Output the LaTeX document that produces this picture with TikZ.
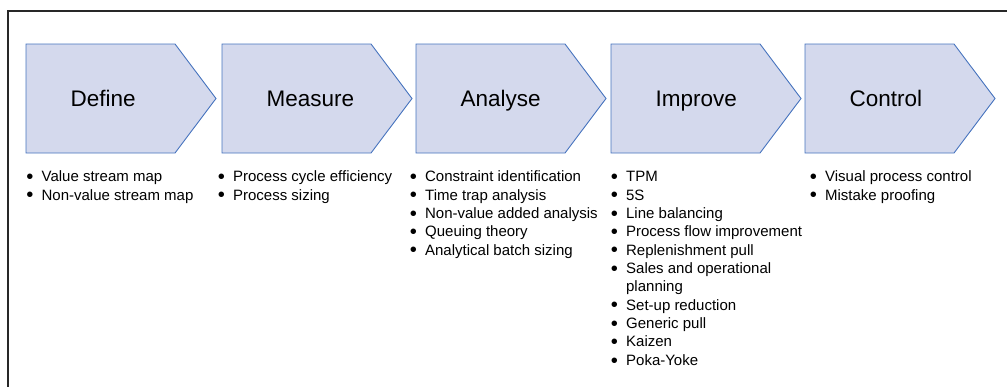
\documentclass[tikz,border=0pt]{standalone}
\usepackage{fontspec}
\setmainfont{Liberation Sans}
\definecolor{chfill}{RGB}{212,217,237}
\definecolor{chdraw}{RGB}{70,115,190}
\definecolor{framecol}{RGB}{40,40,40}
\newcommand{\blist}[1]{{\fontsize{15}{18.35}\selectfont\begin{tabular}[t]{@{}l@{\hspace{9.2pt}}l@{}}#1\end{tabular}}}
\newcommand{\bi}{\makebox[5.25pt][c]{\raisebox{-1.8pt}{\scalebox{1.35}{\textbullet}}} &}
\begin{document}
\begin{tikzpicture}[x=1pt,y=-1pt,
  chevron/.style={fill=chfill,draw=chdraw,line width=0.9pt,line join=miter},
  phase/.style={anchor=base west,inner sep=0pt,font=\fontsize{22.5}{26}\selectfont},
  items/.style={anchor=north west,inner sep=0pt}]
\useasboundingbox (0,0) rectangle (1007,386);
\draw[framecol,line width=2.6pt] (8,390) -- (8,11) -- (1010,11);
\foreach \L/\name/\txt in {26/D/Define,222/M/Measure,416/A/Analyse,611/I/Improve,805/C/Control}{
  \draw[chevron] (\L,44) -- ({\L+149},44) -- ({\L+190},98.5) -- ({\L+149},153) -- (\L,153) -- cycle;
  \node[phase] (t\name) at ({\L+44.5},106) {\txt};
}
\node[items] (lD) at (27,168.7) {\blist{\bi Value stream map\\ \bi Non-value stream map}};
\node[items] (lM) at (218.5,168.7) {\blist{\bi Process cycle efficiency\\ \bi Process sizing}};
\node[items] (lA) at (410.5,168.7) {\blist{\bi Constraint identification\\ \bi Time trap analysis\\ \bi Non-value added analysis\\ \bi Queuing theory\\ \bi Analytical batch sizing}};
\node[items] (lI) at (611.5,168.7) {\blist{\bi TPM\\ \bi 5S\\ \bi Line balancing\\ \bi Process flow improvement\\ \bi Replenishment pull\\ \bi Sales and operational\\ & planning\\ \bi Set-up reduction\\ \bi Generic pull\\ \bi Kaizen\\ \bi Poka-Yoke}};
\node[items] (lC) at (810.5,168.7) {\blist{\bi Visual process control\\ \bi Mistake proofing}};
\end{tikzpicture}
\end{document}
